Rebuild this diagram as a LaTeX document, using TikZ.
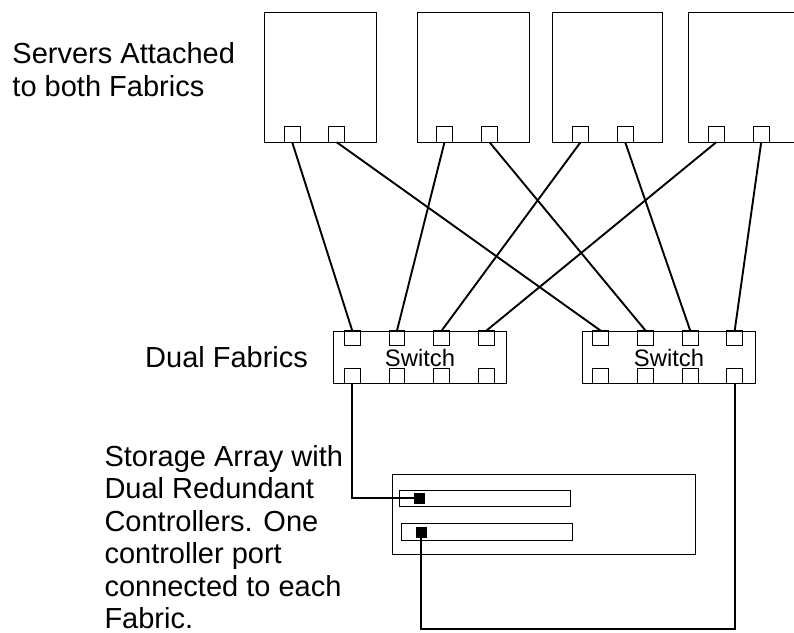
\documentclass[tikz,border=0pt]{standalone}
\usepackage{fontspec}
\setmainfont{Liberation Sans}
\begin{document}
\begin{tikzpicture}[x=1pt,y=-1pt,
  box/.style={draw=black,line width=1pt,fill=none},
  port/.style={draw=black,line width=1pt,minimum width=15.7pt,minimum height=15.3pt,inner sep=0pt,outer sep=0pt},
  cport/.style={draw=black,fill=black,minimum size=10pt,inner sep=0pt,outer sep=0pt},
  wire/.style={draw=black,line width=1.9pt},
  lbl/.style={font=\fontsize{29}{32.4}\selectfont,align=left,inner sep=0pt,anchor=base west},
  swlbl/.style={font=\fontsize{23.8}{26}\selectfont,inner sep=0pt,anchor=base}]
\useasboundingbox (0,0) rectangle (794,632);
\clip (0,0) rectangle (794,632);
% servers
\draw[box] (264,12.3) rectangle (376.7,142.3);
\draw[box] (417,12.3) rectangle (529,142.3);
\draw[box] (552.7,12.3) rectangle (662.7,142.3);
\draw[box] (688.3,12.3) rectangle (799.5,142.3);
\node[port] (s1a) at (292.2,134.6) {};
\node[port] (s1b) at (336.7,134.6) {};
\node[port] (s2a) at (444.5,134.6) {};
\node[port] (s2b) at (489.5,134.6) {};
\node[port] (s3a) at (580.5,134.6) {};
\node[port] (s3b) at (625.2,134.6) {};
\node[port] (s4a) at (716.2,134.6) {};
\node[port] (s4b) at (761.2,134.6) {};
% switches
\draw[box] (333.3,331) rectangle (506.7,383.3);
\draw[box] (582.7,331) rectangle (755.7,383.3);
\node[port] (w1a) at (352.2,338.2) {};
\node[port] (w1b) at (397,338.2) {};
\node[port] (w1c) at (441.7,338.2) {};
\node[port] (w1d) at (486.5,338.2) {};
\node[port] (w1e) at (352.2,376.2) {};
\node[port] (w1f) at (397,376.2) {};
\node[port] (w1g) at (441.7,376.2) {};
\node[port] (w1h) at (486.5,376.2) {};
\node[port] (w2a) at (600.5,338.2) {};
\node[port] (w2b) at (645.5,338.2) {};
\node[port] (w2c) at (690.2,338.2) {};
\node[port] (w2d) at (734.7,338.2) {};
\node[port] (w2e) at (600.5,376.2) {};
\node[port] (w2f) at (645.5,376.2) {};
\node[port] (w2g) at (690.2,376.2) {};
\node[port] (w2h) at (734.7,376.2) {};
\node[swlbl] (sw1) at (420,366) {Switch};
\node[swlbl] (sw2) at (669,366) {Switch};
% storage array
\draw[box] (392.7,474) rectangle (695,554);
\draw[box] (399.3,490) rectangle (570.7,506);
\draw[box] (401,523.3) rectangle (572.3,540);
\node[cport] (k1) at (419,497.9) {};
\node[cport] (k2) at (421,531.7) {};
% wires
\draw[wire] (s1a.south) -- (w1a.north);
\draw[wire] (s1b.south) -- (w2a.north);
\draw[wire] (s2a.south) -- (w1b.north);
\draw[wire] (s2b.south) -- (w2b.north);
\draw[wire] (s3a.south) -- (w1c.north);
\draw[wire] (s3b.south) -- (w2c.north);
\draw[wire] (s4a.south) -- (w1d.north);
\draw[wire] (s4b.south) -- (w2d.north);
\draw[wire] (w1e.south) |- (k1.west);
\coordinate (c2) at (734.7,629);
\draw[wire] (w2h.south) -- (c2) -| (k2.south);
% labels (base anchor = baseline of last line)
\node[lbl] (lservers) at (12.3,96) {Servers Attached\\to both Fabrics};
\node[lbl] (lfabrics) at (145,367) {Dual Fabrics};
\node[lbl] (lstorage) at (104.3,628.5) {Storage Array with\\Dual Redundant\\Controllers. One\\controller port\\connected to each\\Fabric.};
\end{tikzpicture}
\end{document}
